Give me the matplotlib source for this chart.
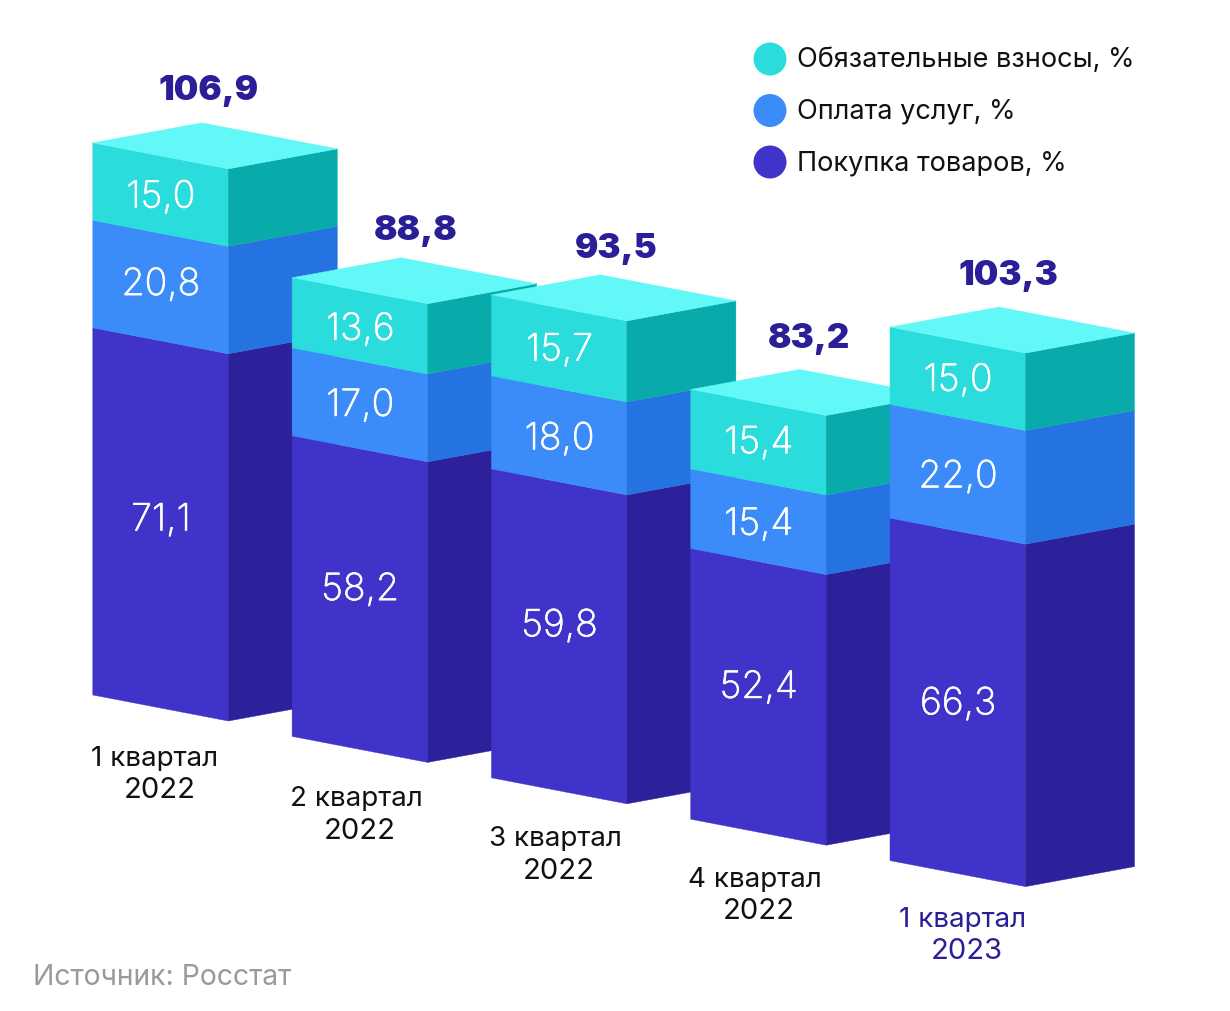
import matplotlib
matplotlib.use("Agg")
import matplotlib.pyplot as plt
import matplotlib.patheffects as pe
from matplotlib.patches import Polygon, Circle

plt.rcParams['font.family'] = ['Inter', 'DejaVu Sans']

quarters = ["1 квартал", "2 квартал", "3 квартал", "4 квартал", "1 квартал"]
years = ["2022", "2022", "2022", "2022", "2023"]
goods = [71.1, 58.2, 59.8, 52.4, 66.3]
services = [20.8, 17.0, 18.0, 15.4, 22.0]
fees = [15.0, 13.6, 15.7, 15.4, 15.0]
totals = [106.9, 88.8, 93.5, 83.2, 103.3]
legend_labels = ["Обязательные взносы, %", "Оплата услуг, %", "Покупка товаров, %"]
source = "Источник: Росстат"

W, H = 1230, 1012
fig = plt.figure(figsize=(W / 100, H / 100), dpi=100, facecolor="white")
ax = fig.add_axes([0, 0, 1, 1])
ax.set_xlim(0, W)
ax.set_ylim(H, 0)
ax.axis("off")

# layout constants (pixels)
scale = 5.165
x0, dx = 92.8, 199.3
y0, dy = 696, 41.4
fw, fd = 135.5, 26
sw, sd = 109, 20
front = ["#4033C9", "#3B8BF9", "#2ADCDC"]
side = ["#2C219B", "#2473E0", "#08ABAA"]
top_c = "#62F8F8"
label_c = "#2A1F96"
# hand placement offsets of labels, as in the artwork
seg_dy = [[-4, -2, 3], [-9, 1, 4], [-10, 4, 2], [-9, 3, 1], [2, 3, 2]]
tot_dx = [0, 8, 9, 2, 2]
tot_dy = [4, 9, 10, 6, 5]
cat_x = [155, 356, 555, 755, 963]
year_x = [160, 360, 559, 759, 967]
cat_y0, cat_dy, year_gap = 759, 40.25, 32


def fmt(v):
    return f"{v:.1f}".replace(".", ",")


for i in range(len(goods)):
    xl = x0 + dx * i
    yb = y0 + dy * i
    base = 0.0
    for j, v in enumerate([goods[i], services[i], fees[i]]):
        lo, hi = yb - base * scale, yb - (base + v) * scale
        ax.add_patch(Polygon([(xl, lo), (xl + fw, lo + fd), (xl + fw, hi + fd), (xl, hi)],
                             fc=front[j], ec=front[j], lw=0.3))
        ax.add_patch(Polygon([(xl + fw, lo + fd), (xl + fw + sw, lo + fd - sd),
                              (xl + fw + sw, hi + fd - sd), (xl + fw, hi + fd)],
                             fc=side[j], ec=side[j], lw=0.3))
        t = ax.text(xl + 68, (lo + hi) / 2 + 13 + seg_dy[i][j], fmt(v), color="white",
                    fontsize=27, fontweight="light", ha="center", va="center")
        t.set_path_effects([pe.withStroke(linewidth=0.5, foreground="white")])
        base += v
    yt = yb - base * scale
    ax.add_patch(Polygon([(xl, yt), (xl + fw, yt + fd), (xl + fw + sw, yt + fd - sd), (xl + sw, yt - sd)],
                         fc=top_c, ec=top_c, lw=0.3))
    ax.text(xl + 116 + tot_dx[i], yt - 57 + tot_dy[i], fmt(totals[i]), color=label_c,
            fontsize=25, fontweight="black", ha="center", va="center")
    c = label_c if i == len(goods) - 1 else "#111111"
    cy = cat_y0 + cat_dy * i
    ax.text(cat_x[i], cy, quarters[i], color=c, fontsize=20, ha="center", va="center")
    ax.text(year_x[i], cy + year_gap, years[i], color=c, fontsize=21, ha="center", va="center")

for k, lab in enumerate(legend_labels):
    y = 60 + 51.5 * k
    ax.add_patch(Circle((770, y), 16.5, fc=front[2 - k], ec="none"))
    ax.text(797, y, lab, color="#111111", fontsize=19.5, ha="left", va="center")

ax.text(33, 978, source, color="#9A9A9A", fontsize=20.4, ha="left", va="center")
fig.savefig("out.png", dpi=100)
